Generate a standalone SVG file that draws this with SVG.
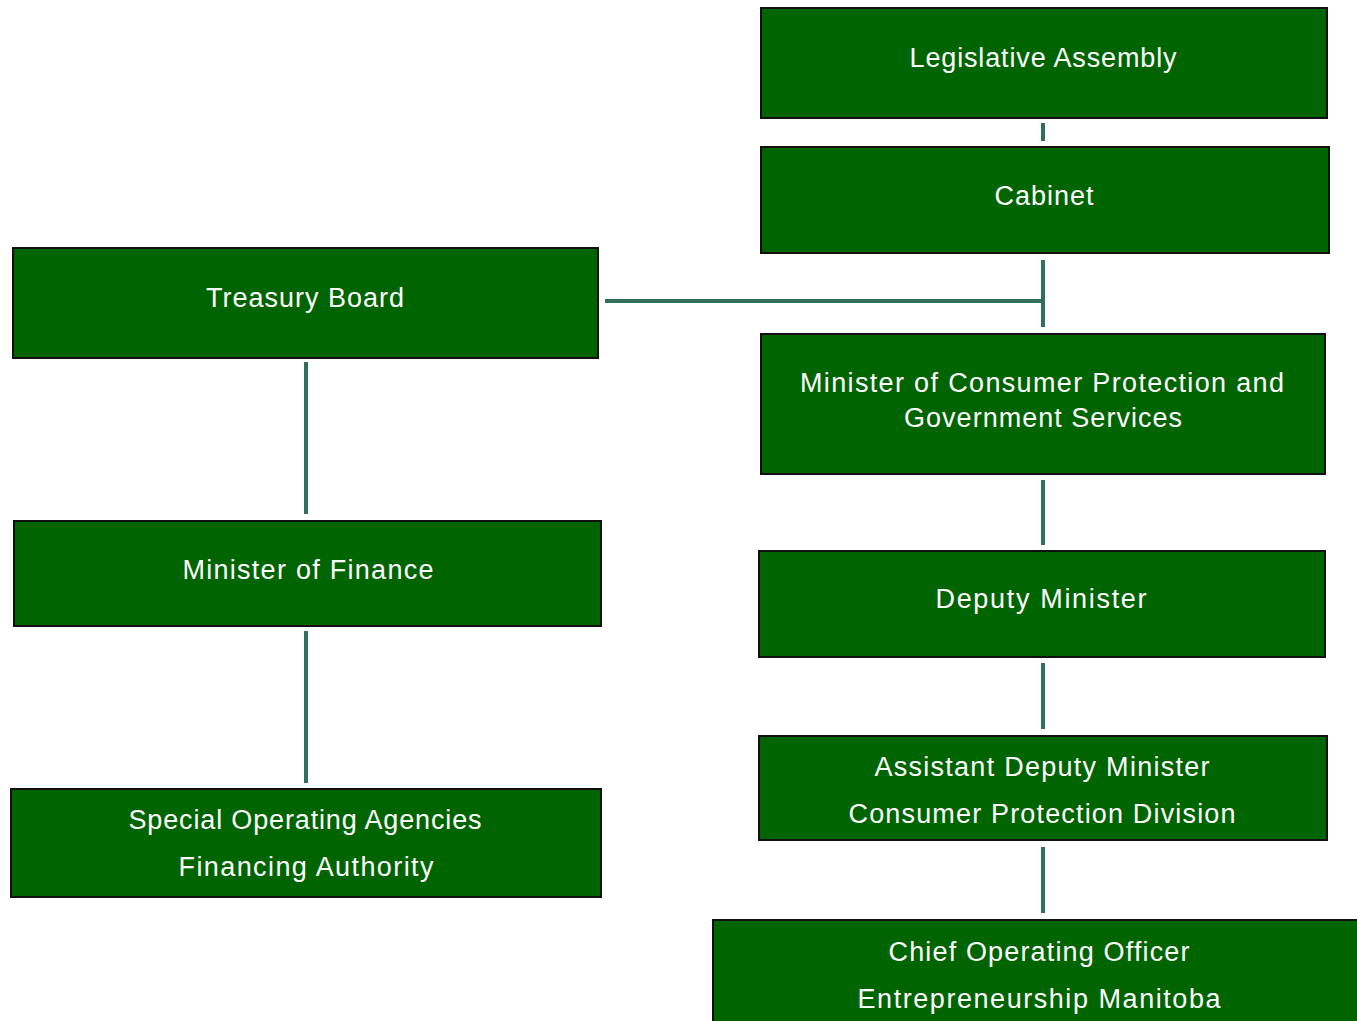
<svg xmlns="http://www.w3.org/2000/svg" width="1357" height="1021" viewBox="0 0 1357 1021">
<style>
.box{fill:#006400;stroke:#111;stroke-width:2}
.lbl{font-family:"Liberation Sans",Arial,sans-serif;font-size:27px;fill:#ffffff;text-anchor:middle}
.con{stroke:#2f6f5c;stroke-width:4;fill:none}
</style>
<rect width="1357" height="1021" fill="#ffffff"/>
<g id="connectors">
<line class="con" x1="1043" y1="123" x2="1043" y2="141"/>
<line class="con" x1="1043" y1="260" x2="1043" y2="327"/>
<line class="con" x1="605" y1="301" x2="1043" y2="301"/>
<line class="con" x1="306" y1="362" x2="306" y2="514"/>
<line class="con" x1="306" y1="631" x2="306" y2="783"/>
<line class="con" x1="1043" y1="480" x2="1043" y2="545"/>
<line class="con" x1="1043" y1="663" x2="1043" y2="729"/>
<line class="con" x1="1043" y1="847" x2="1043" y2="913"/>
</g>
<g id="legislative-assembly">
<rect class="box" x="761" y="8" width="566" height="110"/>
<text class="lbl" x="1043" y="67" textLength="267" lengthAdjust="spacing">Legislative Assembly</text>
</g>
<g id="cabinet">
<rect class="box" x="761" y="147" width="568" height="106"/>
<text class="lbl" x="1044" y="205" textLength="99" lengthAdjust="spacing">Cabinet</text>
</g>
<g id="treasury-board">
<rect class="box" x="13" y="248" width="585" height="110"/>
<text class="lbl" x="305" y="307" textLength="198" lengthAdjust="spacing">Treasury Board</text>
</g>
<g id="minister-consumer">
<rect class="box" x="761" y="334" width="564" height="140"/>
<text class="lbl" x="1042" y="392" textLength="484" lengthAdjust="spacing">Minister of Consumer Protection and</text>
<text class="lbl" x="1043" y="427" textLength="278" lengthAdjust="spacing">Government Services</text>
</g>
<g id="deputy-minister">
<rect class="box" x="759" y="551" width="566" height="106"/>
<text class="lbl" x="1041" y="608" textLength="211" lengthAdjust="spacing">Deputy Minister</text>
</g>
<g id="assistant-deputy-minister">
<rect class="box" x="759" y="736" width="568" height="104"/>
<text class="lbl" x="1042" y="776" textLength="335" lengthAdjust="spacing">Assistant Deputy Minister</text>
<text class="lbl" x="1042" y="823" textLength="387" lengthAdjust="spacing">Consumer Protection Division</text>
</g>
<g id="chief-operating-officer">
<rect class="box" x="713" y="920" width="660" height="120"/>
<text class="lbl" x="1039" y="961" textLength="301" lengthAdjust="spacing">Chief Operating Officer</text>
<text class="lbl" x="1039" y="1008" textLength="363" lengthAdjust="spacing">Entrepreneurship Manitoba</text>
</g>
<g id="minister-finance">
<rect class="box" x="14" y="521" width="587" height="105"/>
<text class="lbl" x="308" y="579" textLength="251" lengthAdjust="spacing">Minister of Finance</text>
</g>
<g id="special-operating-agencies">
<rect class="box" x="11" y="789" width="590" height="108"/>
<text class="lbl" x="305" y="829" textLength="353" lengthAdjust="spacing">Special Operating Agencies</text>
<text class="lbl" x="306" y="876" textLength="255" lengthAdjust="spacing">Financing Authority</text>
</g>
</svg>
